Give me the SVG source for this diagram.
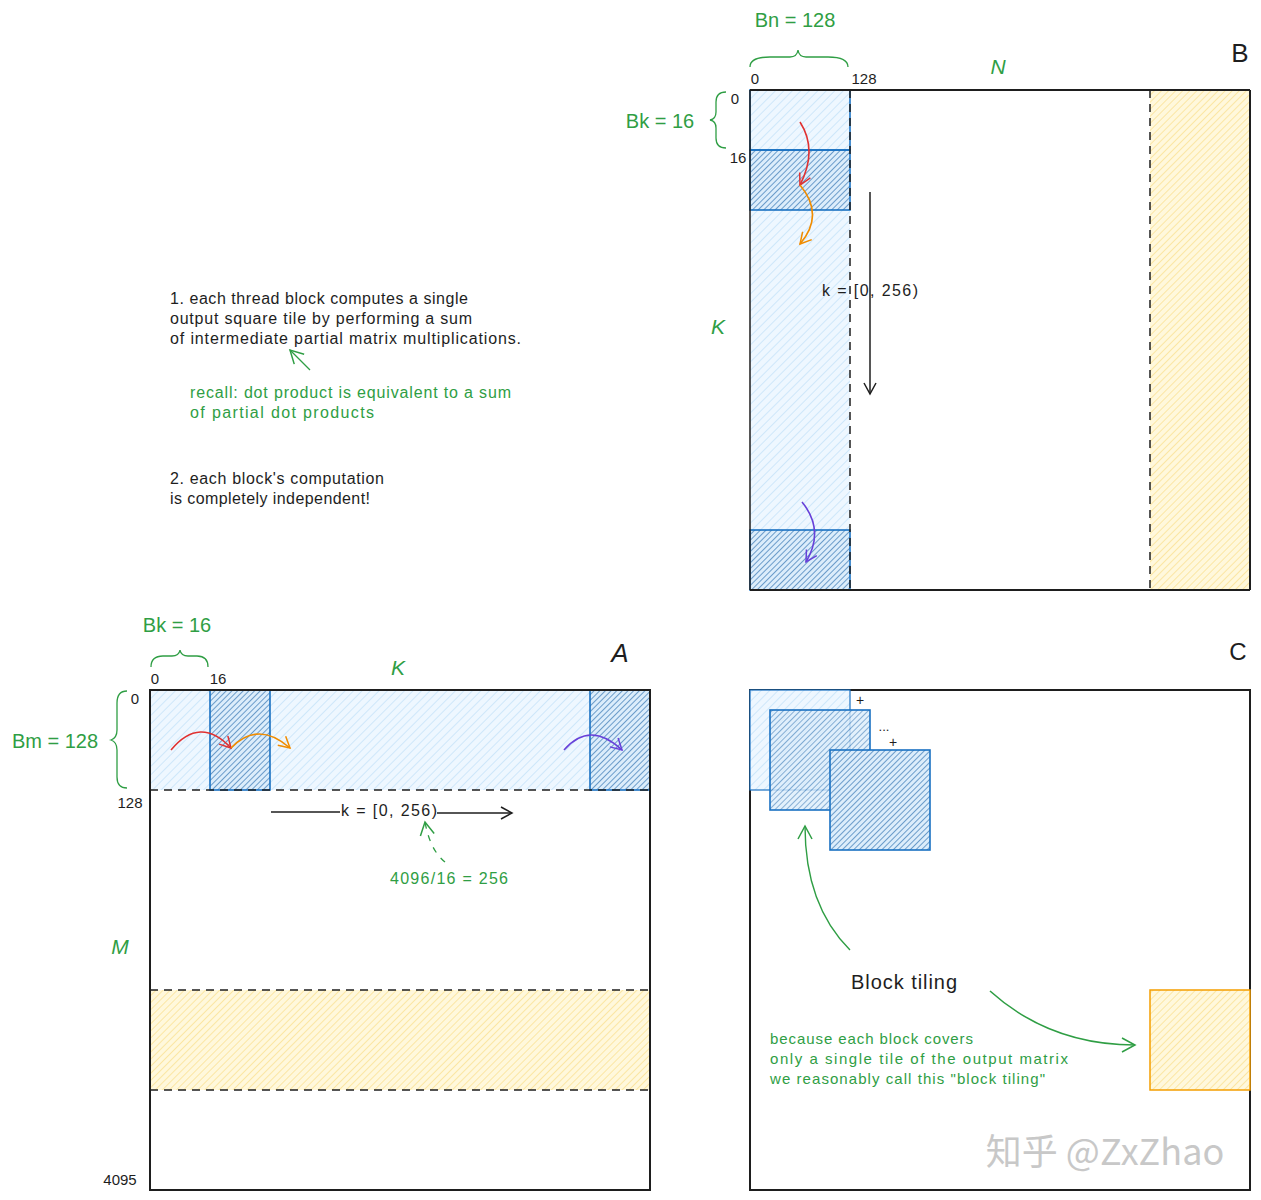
<svg xmlns="http://www.w3.org/2000/svg" width="1261" height="1200" viewBox="0 0 1261 1200">
<style>
text{font-family:"Liberation Sans","Noto Sans CJK SC",sans-serif;}
.blk{fill:#1e1e1e;}
.grn{fill:#2f9e44;}
.mat{fill:none;stroke:#1e1e1e;stroke-width:2;}
.dash{fill:none;stroke:#1e1e1e;stroke-width:1.5;stroke-dasharray:8 6;}
.tile{stroke:#1971c2;stroke-width:1.6;}
.brace{fill:none;stroke:#2f9e44;stroke-width:1.3;}
</style>
<defs>
<pattern id="hl" patternUnits="userSpaceOnUse" width="6" height="6" patternTransform="rotate(45)">
<rect width="6" height="6" fill="#eef7ff"/>
<line x1="0" y1="0" x2="0" y2="6" stroke="#b9dcf7" stroke-width="1.2"/>
</pattern>
<pattern id="hd" patternUnits="userSpaceOnUse" width="4" height="4" patternTransform="rotate(45)">
<rect width="4" height="4" fill="#dcedfb"/>
<line x1="0" y1="0" x2="0" y2="4" stroke="#1f66aa" stroke-width="1.2"/>
</pattern>
<pattern id="hy" patternUnits="userSpaceOnUse" width="5" height="5" patternTransform="rotate(45)">
<rect width="5" height="5" fill="#fff8dc"/>
<line x1="0" y1="0" x2="0" y2="5" stroke="#f7d56a" stroke-width="1"/>
</pattern>
<marker id="ab" markerWidth="14" markerHeight="14" refX="12" refY="7" orient="auto" markerUnits="userSpaceOnUse"><path d="M1,1 L12,7 L1,13" fill="none" stroke="#1e1e1e" stroke-width="1.5"/></marker>
<marker id="ar" markerWidth="14" markerHeight="14" refX="12" refY="7" orient="auto" markerUnits="userSpaceOnUse"><path d="M1,1 L12,7 L1,13" fill="none" stroke="#e03131" stroke-width="1.5"/></marker>
<marker id="ao" markerWidth="14" markerHeight="14" refX="12" refY="7" orient="auto" markerUnits="userSpaceOnUse"><path d="M1,1 L12,7 L1,13" fill="none" stroke="#f08c00" stroke-width="1.5"/></marker>
<marker id="ap" markerWidth="14" markerHeight="14" refX="12" refY="7" orient="auto" markerUnits="userSpaceOnUse"><path d="M1,1 L12,7 L1,13" fill="none" stroke="#6741d9" stroke-width="1.5"/></marker>
<marker id="ag" markerWidth="16" markerHeight="16" refX="14" refY="8" orient="auto" markerUnits="userSpaceOnUse"><path d="M1,1 L14,8 L1,15" fill="none" stroke="#2f9e44" stroke-width="1.5"/></marker>
</defs>

<!-- Matrix B -->
<g id="matrixB">
<rect x="750" y="90" width="100" height="500" fill="url(#hl)"/>
<rect x="1150" y="90" width="100" height="500" fill="url(#hy)"/>
<rect x="750" y="150" width="100" height="60" fill="url(#hd)" class="tile"/>
<rect x="750" y="90" width="100" height="60" fill="none" class="tile"/>
<rect x="750" y="530" width="100" height="60" fill="url(#hd)" class="tile"/>
<line x1="750" y1="90" x2="1250" y2="90" stroke="#1e1e1e" stroke-width="2"/>
<line x1="750" y1="590" x2="1250" y2="590" stroke="#1e1e1e" stroke-width="2"/>
<line x1="1250" y1="90" x2="1250" y2="590" stroke="#1e1e1e" stroke-width="2"/>
<line x1="750" y1="90" x2="750" y2="590" stroke="#1e1e1e" stroke-width="1.5"/>
<line x1="850" y1="90" x2="850" y2="590" class="dash"/>
<line x1="1150" y1="90" x2="1150" y2="590" class="dash"/>
<text x="1240" y="62" class="blk" font-size="26" text-anchor="middle">B</text>
<text x="998" y="74" class="grn" font-size="21" font-style="italic" text-anchor="middle">N</text>
<text x="718" y="334" class="grn" font-size="21" font-style="italic" text-anchor="middle">K</text>
<text x="795" y="27" class="grn" font-size="20" text-anchor="middle">Bn = 128</text>
<path d="M750,67 Q750,57 770,57 L790,57 Q797,57 798,50 Q799,57 806,57 L828,57 Q848,57 848,67" class="brace"/>
<text x="755" y="84" class="blk" font-size="15" text-anchor="middle">0</text>
<text x="864" y="84" class="blk" font-size="15" text-anchor="middle">128</text>
<text x="660" y="128" class="grn" font-size="20" text-anchor="middle">Bk = 16</text>
<path d="M726,92 Q716,92 716,102 L716,112 Q716,119 710,120 Q716,121 716,128 L716,138 Q716,148 726,148" class="brace"/>
<text x="735" y="104" class="blk" font-size="15" text-anchor="middle">0</text>
<text x="738" y="163" class="blk" font-size="15" text-anchor="middle">16</text>
<line x1="870" y1="192" x2="870" y2="394" stroke="#1e1e1e" stroke-width="1.5" marker-end="url(#ab)"/>
<text x="822" y="296" class="blk" font-size="16" textLength="96">k = [0, 256)</text>
</g>

<!-- Matrix A -->
<g id="matrixA">
<rect x="150" y="690" width="500" height="100" fill="url(#hl)"/>
<rect x="150" y="990" width="500" height="100" fill="url(#hy)"/>
<rect x="210" y="690" width="60" height="100" fill="url(#hd)" class="tile"/>
<rect x="590" y="690" width="60" height="100" fill="url(#hd)" class="tile"/>
<rect x="150" y="690" width="500" height="500" class="mat"/>
<line x1="150" y1="790" x2="650" y2="790" class="dash"/>
<line x1="150" y1="990" x2="650" y2="990" class="dash"/>
<line x1="150" y1="1090" x2="650" y2="1090" class="dash"/>
<text x="620" y="662" class="blk" font-size="26" font-style="italic" text-anchor="middle">A</text>
<text x="398" y="675" class="grn" font-size="21" font-style="italic" text-anchor="middle">K</text>
<text x="120" y="954" class="grn" font-size="21" font-style="italic" text-anchor="middle">M</text>
<text x="177" y="632" class="grn" font-size="20" text-anchor="middle">Bk = 16</text>
<path d="M151,667 Q151,656 163,656 L172,656 Q179,656 180,650 Q181,656 188,656 L197,656 Q208,656 208,667" class="brace"/>
<text x="155" y="684" class="blk" font-size="15" text-anchor="middle">0</text>
<text x="218" y="684" class="blk" font-size="15" text-anchor="middle">16</text>
<text x="55" y="748" class="grn" font-size="20" text-anchor="middle">Bm = 128</text>
<path d="M127,691 Q117,691 117,703 L117,730 Q117,738 111,740 Q117,742 117,750 L117,777 Q117,788 127,788" class="brace"/>
<text x="135" y="704" class="blk" font-size="15" text-anchor="middle">0</text>
<text x="130" y="808" class="blk" font-size="15" text-anchor="middle">128</text>
<text x="120" y="1185" class="blk" font-size="15" text-anchor="middle">4095</text>
<line x1="271" y1="812" x2="340" y2="812" stroke="#1e1e1e" stroke-width="1.5"/>
<line x1="437" y1="813" x2="512" y2="813" stroke="#1e1e1e" stroke-width="1.5" marker-end="url(#ab)"/>
<text x="341" y="816" class="blk" font-size="16" textLength="96">k = [0, 256)</text>
<path d="M445,862 Q430,850 425,822" fill="none" stroke="#2f9e44" stroke-width="1.3" stroke-dasharray="6 7" marker-end="url(#ag)"/>
<text x="390" y="884" class="grn" font-size="16" textLength="118">4096/16 = 256</text>
</g>

<!-- Matrix C -->
<g id="matrixC">
<rect x="750" y="690" width="500" height="500" class="mat" fill="#fff"/>
<rect x="750" y="690" width="100" height="100" fill="url(#hl)" stroke="#1971c2" stroke-width="1.2"/>
<rect x="770" y="710" width="100" height="100" fill="url(#hd)" fill-opacity="0.8" class="tile"/>
<rect x="830" y="750" width="100" height="100" fill="url(#hd)" class="tile"/>
<rect x="1150" y="990" width="100" height="100" fill="url(#hy)" stroke="#f59f00" stroke-width="1.5"/>
<text x="1238" y="660" class="blk" font-size="24" text-anchor="middle">C</text>
<text x="860" y="705" class="blk" font-size="14" text-anchor="middle">+</text>
<text x="884" y="731" class="blk" font-size="13" text-anchor="middle">...</text>
<text x="893" y="747" class="blk" font-size="14" text-anchor="middle">+</text>
<text x="851" y="989" class="blk" font-size="20" textLength="106">Block tiling</text>
<text x="770" y="1044" class="grn" font-size="15" textLength="203">because each block covers</text>
<text x="770" y="1064" class="grn" font-size="15" textLength="298">only a single tile of the output matrix</text>
<text x="770" y="1084" class="grn" font-size="15" textLength="275">we reasonably call this "block tiling"</text>
</g>

<!-- Notes -->
<g id="notes">
<text x="170" y="304" class="blk" font-size="16" textLength="298">1. each thread block computes a single</text>
<text x="170" y="324" class="blk" font-size="16" textLength="302">output square tile by performing a sum</text>
<text x="170" y="344" class="blk" font-size="16" textLength="351">of intermediate partial matrix multiplications.</text>
<text x="190" y="398" class="grn" font-size="16" textLength="321">recall: dot product is equivalent to a sum</text>
<text x="190" y="418" class="grn" font-size="16" textLength="184">of partial dot products</text>
<text x="170" y="484" class="blk" font-size="16" textLength="214">2. each block's computation</text>
<text x="170" y="504" class="blk" font-size="16" textLength="200">is completely independent!</text>
</g>

<!-- Connectors -->
<g id="connectors" fill="none" stroke-width="1.6">
<path d="M800,122 Q818,150 800,185" stroke="#e03131" marker-end="url(#ar)"/>
<path d="M800,185 Q825,215 800,244" stroke="#f08c00" marker-end="url(#ao)"/>
<path d="M802,502 Q825,530 806,562" stroke="#6741d9" marker-end="url(#ap)"/>
<path d="M171,750 Q200,715 231,748" stroke="#e03131" marker-end="url(#ar)"/>
<path d="M231,748 Q258,720 290,748" stroke="#f08c00" marker-end="url(#ao)"/>
<path d="M564,750 Q590,720 622,750" stroke="#6741d9" marker-end="url(#ap)"/>
<path d="M310,370 L290,350" stroke="#2f9e44" stroke-width="1.3" marker-end="url(#ag)"/>
<path d="M850,950 Q805,905 805,826" stroke="#2f9e44" stroke-width="1.4" marker-end="url(#ag)"/>
<path d="M990,991 Q1050,1045 1135,1045" stroke="#2f9e44" stroke-width="1.6" marker-end="url(#ag)"/>
</g>

<text x="1105" y="1165" font-size="36" fill="#c8c8c8" text-anchor="middle" style="font-family:'Noto Sans CJK SC','Liberation Sans',sans-serif">知乎 @ZxZhao</text>
</svg>
